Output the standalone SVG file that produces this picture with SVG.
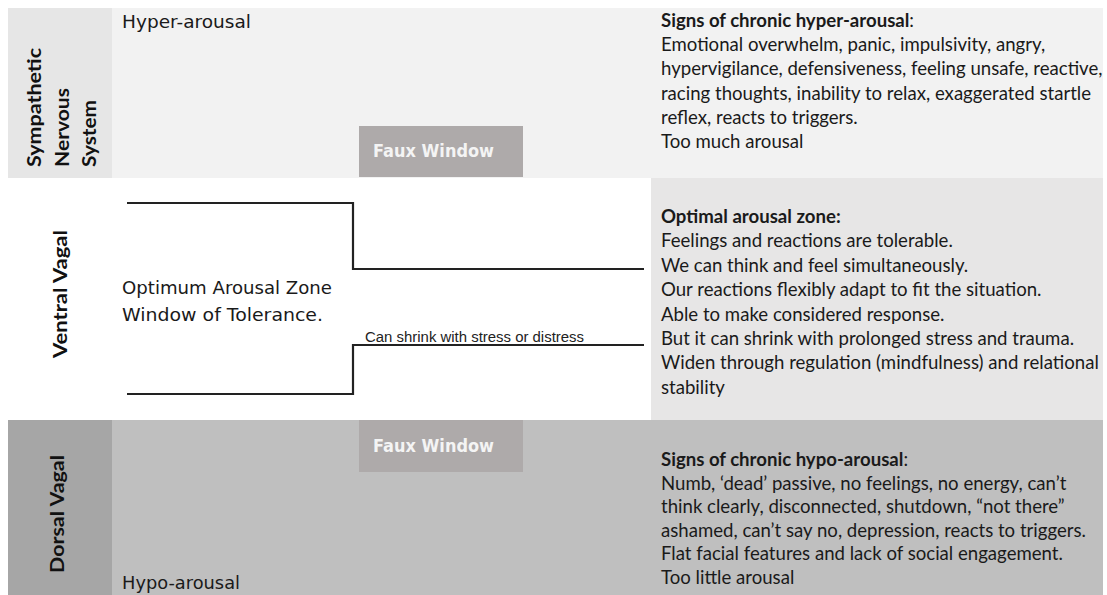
<svg xmlns="http://www.w3.org/2000/svg" width="1107" height="595" viewBox="0 0 1107 595">
<style>
.comic{font-family:"Comic Sans MS","DejaVu Sans",sans-serif;fill:#1a1a1a}
.vlab{font-family:Lato,"Open Sans",sans-serif;font-weight:bold;font-size:19px;fill:#111}
.body{font-family:Lato,"Open Sans",sans-serif;font-size:18.6px;fill:#1a1a1a}
.b{font-weight:bold}
.faux{fill:#aeaaaa}
.fauxt{font-family:"Comic Sans MS","DejaVu Sans",sans-serif;font-weight:bold;font-size:17px;fill:#f4f4f4}
.line{fill:none;stroke:#222;stroke-width:2.2}
.small{font-family:"Liberation Sans Narrow","Liberation Sans",sans-serif;font-size:14px;fill:#222}
</style>
<rect x="0" y="0" width="1107" height="595" fill="#ffffff"/>
<g id="band-sympathetic">
<rect x="8" y="8" width="1095" height="170" fill="#f2f2f2"/>
<rect x="8" y="8" width="104" height="170" fill="#e6e6e6"/>
<g class="vlab">
<text transform="translate(41,167) rotate(-90)" textLength="119" lengthAdjust="spacingAndGlyphs">Sympathetic</text>
<text transform="translate(69,167) rotate(-90)" textLength="79" lengthAdjust="spacingAndGlyphs">Nervous</text>
<text transform="translate(96,167) rotate(-90)" textLength="67" lengthAdjust="spacingAndGlyphs">System</text>
</g>
<text class="comic" x="122" y="28" font-size="17" textLength="129" lengthAdjust="spacingAndGlyphs">Hyper-arousal</text>
</g>
<g id="faux-window-top">
<rect class="faux" x="359" y="126" width="164" height="51"/>
<text class="fauxt" x="373" y="157" textLength="121" lengthAdjust="spacingAndGlyphs">Faux Window</text>
</g>
<g id="signs-hyper">
<text class="body" x="661" y="27"><tspan class="b">Signs of chronic hyper-arousal</tspan>:</text>
<text class="body" x="661" y="51.2">Emotional overwhelm, panic, impulsivity, angry,</text>
<text class="body" x="661" y="75.4">hypervigilance, defensiveness, feeling unsafe, reactive,</text>
<text class="body" x="661" y="99.6">racing thoughts, inability to relax, exaggerated startle</text>
<text class="body" x="661" y="123.8">reflex, reacts to triggers.</text>
<text class="body" x="661" y="148">Too much arousal</text>
</g>
<g id="band-ventral">
<g class="vlab">
<text transform="translate(67,294) rotate(-90)" text-anchor="middle" textLength="128" lengthAdjust="spacingAndGlyphs">Ventral Vagal</text>
</g>
<text class="comic" x="122" y="294" font-size="18" textLength="210" lengthAdjust="spacingAndGlyphs">Optimum Arousal Zone</text>
<text class="comic" x="122" y="321" font-size="18" textLength="201" lengthAdjust="spacingAndGlyphs">Window of Tolerance.</text>
</g>
<g id="optimal-zone">
<rect x="651" y="178" width="452" height="242" fill="#e7e6e6"/>
<text class="body" x="661" y="223"><tspan class="b">Optimal arousal zone:</tspan></text>
<text class="body" x="661" y="247.4">Feelings and reactions are tolerable.</text>
<text class="body" x="661" y="271.8">We can think and feel simultaneously.</text>
<text class="body" x="661" y="296.2">Our reactions flexibly adapt to fit the situation.</text>
<text class="body" x="661" y="320.6">Able to make considered response.</text>
<text class="body" x="661" y="345">But it can shrink with prolonged stress and trauma.</text>
<text class="body" x="661" y="369.4">Widen through regulation (mindfulness) and relational</text>
<text class="body" x="661" y="393.8">stability</text>
</g>
<g id="band-dorsal">
<rect x="8" y="420" width="1095" height="175" fill="#bfbfbf"/>
<rect x="8" y="420" width="104" height="175" fill="#a6a6a6"/>
<g class="vlab">
<text transform="translate(64,514) rotate(-90)" text-anchor="middle" textLength="118" lengthAdjust="spacingAndGlyphs">Dorsal Vagal</text>
</g>
<text class="comic" x="122" y="589" font-size="17" textLength="118" lengthAdjust="spacingAndGlyphs">Hypo-arousal</text>
</g>
<g id="faux-window-bottom">
<rect class="faux" x="359" y="420" width="164" height="52"/>
<text class="fauxt" x="373" y="452" textLength="121" lengthAdjust="spacingAndGlyphs">Faux Window</text>
</g>
<g id="signs-hypo">
<text class="body" x="661" y="466"><tspan class="b">Signs of chronic hypo-arousal</tspan>:</text>
<text class="body" x="661" y="489.5">Numb, ‘dead’ passive, no feelings, no energy, can’t</text>
<text class="body" x="661" y="513">think clearly, disconnected, shutdown, “not there”</text>
<text class="body" x="661" y="536.5">ashamed, can’t say no, depression, reacts to triggers.</text>
<text class="body" x="661" y="560">Flat facial features and lack of social engagement.</text>
<text class="body" x="661" y="583.5">Too little arousal</text>
</g>
<g id="connectors">
<path class="line" d="M127,203 H353 V269 H644"/>
<path class="line" d="M127,394 H353 V345 H644"/>
<text class="small" x="365" y="342" textLength="219" lengthAdjust="spacingAndGlyphs">Can shrink with stress or distress</text>
</g>
</svg>
